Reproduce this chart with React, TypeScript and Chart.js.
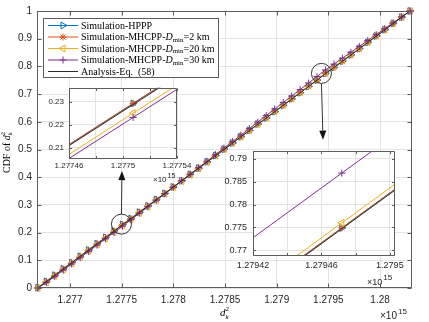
import React, { useEffect, useRef } from 'react';
import { Chart, registerables } from 'chart.js';
import { drawPoint } from 'chart.js/helpers';
Chart.register(...registerables);

const SERIF = '"Liberation Serif", "Times New Roman", serif';
const SANS = '"Liberation Sans", Arial, sans-serif';
const TEXT = '#262626';
const GRID = '#e4e4e4';
const FRAME = '#5c5c5c';

// ---------- main chart data (x in units of 1e15) ----------
const xGrid = [
  1.2766890, 1.2767709, 1.2768527, 1.2769346, 1.2770164, 1.2770983, 1.2771801, 1.2772620, 1.2773438,
  1.2774257, 1.2775075, 1.2775894, 1.2776712, 1.2777531, 1.2778349, 1.2779168, 1.2779986, 1.2780805,
  1.2781623, 1.2782442, 1.2783260, 1.2784079, 1.2784897, 1.2785716, 1.2786534, 1.2787353, 1.2788171,
  1.2788990, 1.2789808, 1.2790627, 1.2791445, 1.2792264, 1.2793082, 1.2793901, 1.2794719, 1.2795538,
  1.2796356, 1.2797175, 1.2797993, 1.2798812, 1.2799630, 1.2800449, 1.2801267, 1.2802086, 1.2802904,
];
const hpppY = [
  0.0010, 0.0238, 0.0463, 0.0695, 0.0918, 0.1149, 0.1371, 0.1603, 0.1826, 0.2058, 0.2292, 0.2509,
  0.2739, 0.2963, 0.3194, 0.3417, 0.3648, 0.3871, 0.4102, 0.4325, 0.4556, 0.4779, 0.5011, 0.5233,
  0.5464, 0.5688, 0.5918, 0.6141, 0.6372, 0.6596, 0.6826, 0.7050, 0.7280, 0.7505, 0.7749, 0.7961,
  0.8189, 0.8413, 0.8643, 0.8868, 0.9097, 0.9322, 0.9551, 0.9776, 1.0000,
];
const mh2Y = [
  0.0004, 0.0233, 0.0459, 0.0688, 0.0913, 0.1142, 0.1368, 0.1597, 0.1822, 0.2051, 0.2292, 0.2505,
  0.2732, 0.2960, 0.3187, 0.3413, 0.3641, 0.3868, 0.4096, 0.4322, 0.4550, 0.4777, 0.5005, 0.5231,
  0.5459, 0.5686, 0.5913, 0.6140, 0.6368, 0.6594, 0.6822, 0.7049, 0.7277, 0.7503, 0.7749, 0.7958,
  0.8186, 0.8412, 0.8640, 0.8867, 0.9095, 0.9321, 0.9548, 0.9775, 1.0000,
];
const mh20Y = [
  0.0000, 0.0204, 0.0432, 0.0659, 0.0886, 0.1113, 0.1341, 0.1568, 0.1795, 0.2022, 0.2250, 0.2479,
  0.2708, 0.2938, 0.3167, 0.3397, 0.3626, 0.3856, 0.4085, 0.4314, 0.4544, 0.4774, 0.5003, 0.5232,
  0.5463, 0.5692, 0.5921, 0.6150, 0.6380, 0.6610, 0.6839, 0.7068, 0.7298, 0.7528, 0.7760, 0.7983,
  0.8207, 0.8431, 0.8655, 0.8880, 0.9104, 0.9328, 0.9552, 0.9777, 1.0000,
];
const mh30Y = [
  0.0000, 0.0197, 0.0420, 0.0642, 0.0867, 0.1094, 0.1322, 0.1549, 0.1776, 0.2003, 0.2231, 0.2466,
  0.2700, 0.2936, 0.3171, 0.3405, 0.3640, 0.3876, 0.4110, 0.4345, 0.4580, 0.4815, 0.5050, 0.5285,
  0.5521, 0.5755, 0.5990, 0.6225, 0.6460, 0.6695, 0.6930, 0.7164, 0.7400, 0.7635, 0.7869, 0.8083,
  0.8296, 0.8509, 0.8722, 0.8935, 0.9148, 0.9361, 0.9573, 0.9787, 1.0000,
];
const analysisY = [
  0.0000, 0.0227, 0.0455, 0.0682, 0.0909, 0.1136, 0.1364, 0.1591, 0.1818, 0.2045, 0.2287, 0.2500,
  0.2727, 0.2955, 0.3182, 0.3409, 0.3636, 0.3864, 0.4091, 0.4318, 0.4545, 0.4773, 0.5000, 0.5227,
  0.5455, 0.5682, 0.5909, 0.6136, 0.6364, 0.6591, 0.6818, 0.7045, 0.7273, 0.7500, 0.7747, 0.7955,
  0.8182, 0.8409, 0.8636, 0.8864, 0.9091, 0.9318, 0.9545, 0.9773, 1.0000,
];
const xTicks = [1.277, 1.2775, 1.278, 1.2785, 1.279, 1.2795, 1.28];
const xTickLabels = ['1.277', '1.2775', '1.278', '1.2785', '1.279', '1.2795', '1.28'];
const yTicks = [0, 0.1, 0.2, 0.3, 0.4, 0.5, 0.6, 0.7, 0.8, 0.9, 1];
const yTickLabels = ['0', '0.1', '0.2', '0.3', '0.4', '0.5', '0.6', '0.7', '0.8', '0.9', '1'];

// ---------- inset 1 (zoom near CDF 0.22) ----------
const inset1X = [1.27744, 1.2775075, 1.27756];
const inset1Hppp = [0.2037, 0.2292, 0.2490];
const inset1Mh2 = [0.2037, 0.2292, 0.2490];
const inset1Mh20 = [0.1994, 0.2250, 0.2446];
const inset1Mh30 = [0.1977, 0.2231, 0.2429];
const inset1Analysis = [0.2033, 0.2287, 0.2485];
const inset1XTicks = [1.27746, 1.27748, 1.2775, 1.27752, 1.27754];
const inset1XLabels = ['1.27746', '', '1.2775', '', '1.27754'];
const inset1YTicks = [0.21, 0.22, 0.23];
const inset1YLabels = ['0.21', '0.22', '0.23'];

// ---------- inset 2 (zoom near CDF 0.78) ----------
const inset2X = [1.2794, 1.2794719, 1.27952];
const inset2Hppp = [0.7553, 0.7749, 0.7880];
const inset2Mh2 = [0.7553, 0.7749, 0.7880];
const inset2Mh20 = [0.7564, 0.7760, 0.7891];
const inset2Mh30 = [0.7673, 0.7869, 0.8000];
const inset2Analysis = [0.7551, 0.7747, 0.7878];
const inset2XTicks = [1.27942, 1.27944, 1.27946, 1.27948, 1.2795];
const inset2XLabels = ['1.27942', '', '1.27946', '', '1.2795'];
const inset2YTicks = [0.77, 0.775, 0.78, 0.785, 0.79];
const inset2YLabels = ['0.77', '0.775', '0.78', '0.785', '0.79'];

// ---------- styles ----------
const SERIES = [
  { color: '#0072BD', style: 'triangle', rot: 90, r: 4, order: 5 },
  { color: '#D95319', style: 'star', rot: 0, r: 3.5, order: 4 },
  { color: '#EDB120', style: 'triangle', rot: -90, r: 4, order: 3 },
  { color: '#7E2F8E', style: 'cross', rot: 0, r: 3.5, order: 2 },
  { color: '#2a2a2a', style: 'circle', rot: 0, r: 0, order: 1 },
];

type Part = { t: string; size: number; italic?: boolean; dy?: number; fam?: string; noAdv?: boolean };
const fontOf = (p: Part) => `${p.italic ? 'italic ' : ''}${p.size}px ${p.fam || SERIF}`;
function richWidth(ctx: CanvasRenderingContext2D, parts: Part[]) {
  let w = 0;
  for (const p of parts) { ctx.font = fontOf(p); if (!p.noAdv) w += ctx.measureText(p.t).width; }
  return w;
}
function drawRich(ctx: CanvasRenderingContext2D, parts: Part[], x: number, y: number) {
  let cx = x;
  for (const p of parts) {
    ctx.font = fontOf(p);
    ctx.fillText(p.t, cx, y + (p.dy || 0));
    if (!p.noAdv) cx += ctx.measureText(p.t).width;
  }
}

const LEGEND: Part[][] = [
  [{ t: 'Simulation-HPPP', size: 10 }],
  [{ t: 'Simulation-MHCPP-', size: 10 }, { t: 'D', size: 10, italic: true }, { t: 'min', size: 7, dy: 2.5 }, { t: '=2 km', size: 10 }],
  [{ t: 'Simulation-MHCPP-', size: 10 }, { t: 'D', size: 10, italic: true }, { t: 'min', size: 7, dy: 2.5 }, { t: '=20 km', size: 10 }],
  [{ t: 'Simulation-MHCPP-', size: 10 }, { t: 'D', size: 10, italic: true }, { t: 'min', size: 7, dy: 2.5 }, { t: '=30 km', size: 10 }],
  [{ t: 'Analysis-Eq.  (58)', size: 10 }],
];

function buildDatasets(xs: number[], ys: number[][], markerIdx: number | null, clip: boolean) {
  return SERIES.map((s, k) => ({
    data: xs.map((x, i) => ({ x, y: ys[k][i] })),
    borderColor: s.color,
    borderWidth: 1,
    pointStyle: s.style,
    pointRotation: s.rot,
    pointRadius: markerIdx === null ? s.r : xs.map((_, i) => (i === markerIdx ? s.r : 0)),
    pointHoverRadius: 0,
    pointBorderColor: s.color,
    pointBackgroundColor: 'rgba(0,0,0,0)',
    pointBorderWidth: 1,
    order: s.order,
    tension: 0,
    clip: clip ? undefined : false,
  }));
}

function drawFrame(chart: any, xt: number[], yt: number[], L: number) {
  const { ctx, chartArea, scales } = chart;
  const l = Math.round(chartArea.left) + 0.5, r = Math.round(chartArea.right) - 0.5;
  const t = Math.round(chartArea.top) + 0.5, b = Math.round(chartArea.bottom) - 0.5;
  ctx.save();
  ctx.strokeStyle = FRAME;
  ctx.lineWidth = 1;
  ctx.beginPath();
  for (const v of xt) {
    const px = Math.round(scales.x.getPixelForValue(v)) + 0.5;
    ctx.moveTo(px, b); ctx.lineTo(px, b - L);
    ctx.moveTo(px, t); ctx.lineTo(px, t + L);
  }
  for (const v of yt) {
    const py = Math.round(scales.y.getPixelForValue(v)) + 0.5;
    ctx.moveTo(l, py); ctx.lineTo(l + L, py);
    ctx.moveTo(r, py); ctx.lineTo(r - L, py);
  }
  ctx.rect(l, t, r - l, b - t);
  ctx.stroke();
  ctx.restore();
}

function drawExponent(ctx: CanvasRenderingContext2D, x: number, y: number, s1: number, s2: number) {
  ctx.save();
  ctx.fillStyle = TEXT;
  ctx.textAlign = 'left';
  ctx.textBaseline = 'alphabetic';
  ctx.font = `${s1}px ${SANS}`;
  ctx.fillText('\u00d710', x, y);
  const w = ctx.measureText('\u00d710').width;
  ctx.font = `${s2}px ${SANS}`;
  ctx.fillText('15', x + w + 1, y - s1 * 0.55);
  ctx.restore();
}

function baseOptions(o: any) {
  return {
    responsive: false,
    animation: false,
    devicePixelRatio: 1,
    events: [],
    layout: { padding: { left: 0, top: o.top, right: o.right, bottom: 0 } },
    plugins: { legend: { display: false }, tooltip: { enabled: false } },
    scales: {
      x: {
        type: 'linear',
        min: o.xMin, max: o.xMax,
        afterBuildTicks: (s: any) => { s.ticks = o.xTicks.map((v: number) => ({ value: v })); },
        afterFit: (s: any) => { s.height = o.xH; },
        ticks: {
          callback: (_v: any, i: number) => o.xLabels[i],
          font: { family: SANS, size: o.font }, color: TEXT, padding: o.xPad,
          autoSkip: false, maxRotation: 0, minRotation: 0,
        },
        grid: { color: GRID, drawTicks: false, lineWidth: 1 },
        border: { display: false },
      },
      y: {
        type: 'linear',
        min: o.yMin, max: o.yMax,
        afterBuildTicks: (s: any) => { s.ticks = o.yTicks.map((v: number) => ({ value: v })); },
        afterFit: (s: any) => { s.width = o.yW; },
        ticks: {
          callback: (_v: any, i: number) => o.yLabels[i],
          font: { family: SANS, size: o.font }, color: TEXT, padding: o.yPad,
          autoSkip: false,
        },
        grid: { color: GRID, drawTicks: false, lineWidth: 1 },
        border: { display: false },
      },
    },
  };
}

// annotation anchors (data coordinates of the zoomed spots)
const circleSpots = [
  { x: 1.277498, y: 0.2305, tipY: 0.422, tipX: 1.277503 },
  { x: 1.279433, y: 0.7748, tipY: 0.5355, tipX: 1.279448 },
];

const mainPlugin = {
  id: 'mainDecor',
  afterDatasetsDraw(chart: any) { drawFrame(chart, xTicks, yTicks, 4); },
  afterDraw(chart: any) {
    const { ctx, chartArea, scales } = chart;
    // circles and arrows
    ctx.save();
    ctx.strokeStyle = '#333';
    ctx.fillStyle = '#111';
    ctx.lineWidth = 1;
    for (const c of circleSpots) {
      const cx = scales.x.getPixelForValue(c.x), cy = scales.y.getPixelForValue(c.y);
      const tx = scales.x.getPixelForValue(c.tipX), ty = scales.y.getPixelForValue(c.tipY);
      const R = 10;
      ctx.beginPath(); ctx.arc(cx, cy, R, 0, Math.PI * 2); ctx.stroke();
      const dir = ty < cy ? -1 : 1;
      const sy = cy + dir * R;
      const ang = Math.atan2(ty - sy, tx - cx);
      const hl = 9, hw = 3.5;
      const bx = tx - Math.cos(ang) * hl, by = ty - Math.sin(ang) * hl;
      ctx.beginPath(); ctx.moveTo(cx, sy); ctx.lineTo(bx, by); ctx.stroke();
      ctx.beginPath();
      ctx.moveTo(tx, ty);
      ctx.lineTo(bx + Math.sin(ang) * hw, by - Math.cos(ang) * hw);
      ctx.lineTo(bx - Math.sin(ang) * hw, by + Math.cos(ang) * hw);
      ctx.closePath(); ctx.fill();
    }
    ctx.restore();

    // legend
    ctx.save();
    const lx = chartArea.left + 6, ly = chartArea.top + 7, lw = 176, lh = 60;
    ctx.fillStyle = '#fff';
    ctx.fillRect(lx, ly, lw, lh);
    ctx.strokeStyle = FRAME;
    ctx.lineWidth = 1;
    ctx.strokeRect(lx + 0.5, ly + 0.5, lw - 1, lh - 1);
    LEGEND.forEach((parts, k) => {
      const s = SERIES[k];
      const yy = ly + 7.5 + k * 11.5;
      ctx.strokeStyle = s.color;
      ctx.lineWidth = 1;
      ctx.beginPath(); ctx.moveTo(lx + 5, yy); ctx.lineTo(lx + 35, yy); ctx.stroke();
      if (s.r > 0) {
        ctx.fillStyle = 'rgba(0,0,0,0)';
        drawPoint(ctx, { pointStyle: s.style, rotation: s.rot, radius: s.r, borderWidth: 1 } as any, lx + 20, yy);
      }
      ctx.fillStyle = '#000';
      ctx.textBaseline = 'middle';
      ctx.textAlign = 'left';
      drawRich(ctx, parts, lx + 38, yy + 0.5);
    });
    ctx.restore();

    // axis titles
    ctx.save();
    ctx.fillStyle = '#000';
    ctx.textBaseline = 'alphabetic';
    ctx.textAlign = 'left';
    const xl: Part[] = [{ t: 'd', size: 11, italic: true }, { t: 'k', size: 7, italic: true, dy: 2.5, noAdv: true }, { t: '2', size: 7, dy: -5 }];
    const xw = richWidth(ctx, xl);
    drawRich(ctx, xl, (chartArea.left + chartArea.right) / 2 - xw / 2, chartArea.bottom + 28);
    const yl: Part[] = [{ t: 'CDF of ', size: 10 }, ...xl.map((p) => ({ ...p, size: p.size === 11 ? 10 : 6.5 }))];
    const yw = richWidth(ctx, yl);
    ctx.translate(9.5, (chartArea.top + chartArea.bottom) / 2 + 3);
    ctx.rotate(-Math.PI / 2);
    drawRich(ctx, yl, -yw / 2, 0);
    ctx.restore();

    drawExponent(ctx, chartArea.right - 32, chartArea.bottom + 31, 10, 8);
  },
};

function insetPlugin(xt: number[], yt: number[], exp: { dx: number; dy: number; s1: number; s2: number }) {
  return {
    id: 'insetDecor',
    beforeDraw(chart: any) {
      const { ctx, chartArea } = chart;
      ctx.save();
      ctx.fillStyle = '#fff';
      ctx.fillRect(chartArea.left, chartArea.top, chartArea.right - chartArea.left, chartArea.bottom - chartArea.top);
      ctx.restore();
    },
    afterDatasetsDraw(chart: any) { drawFrame(chart, xt, yt, 2.5); },
    afterDraw(chart: any) {
      const { ctx, chartArea } = chart;
      drawExponent(ctx, chartArea.right + exp.dx, chartArea.bottom + exp.dy, exp.s1, exp.s2);
    },
  };
}

export default function App() {
  const mainRef = useRef<HTMLCanvasElement>(null);
  const in1Ref = useRef<HTMLCanvasElement>(null);
  const in2Ref = useRef<HTMLCanvasElement>(null);

  useEffect(() => {
    const charts: Chart[] = [];
    charts.push(new Chart(mainRef.current as HTMLCanvasElement, {
      type: 'line',
      data: { datasets: buildDatasets(xGrid, [hpppY, mh2Y, mh20Y, mh30Y, analysisY], null, false) as any },
      options: baseOptions({
        top: 6, right: 17, xH: 34, yW: 37, font: 10, xPad: 6, yPad: 5,
        xMin: 1.276681, xMax: 1.280309, yMin: 0, yMax: 1,
        xTicks, xLabels: xTickLabels, yTicks, yLabels: yTickLabels,
      }) as any,
      plugins: [mainPlugin],
    }));
    charts.push(new Chart(in1Ref.current as HTMLCanvasElement, {
      type: 'line',
      data: { datasets: buildDatasets(inset1X, [inset1Hppp, inset1Mh2, inset1Mh20, inset1Mh30, inset1Analysis], 1, true) as any },
      options: baseOptions({
        top: 5, right: 28, xH: 29, yW: 39, font: 8, xPad: 2, yPad: 5,
        xMin: 1.27746, xMax: 1.27754, yMin: 0.205, yMax: 0.236,
        xTicks: inset1XTicks, xLabels: inset1XLabels, yTicks: inset1YTicks, yLabels: inset1YLabels,
      }) as any,
      plugins: [insetPlugin(inset1XTicks, inset1YTicks, { dx: -24, dy: 23, s1: 8, s2: 7 })],
    }));
    charts.push(new Chart(in2Ref.current as HTMLCanvasElement, {
      type: 'line',
      data: { datasets: buildDatasets(inset2X, [inset2Hppp, inset2Mh2, inset2Mh20, inset2Mh30, inset2Analysis], 1, true) as any },
      options: baseOptions({
        top: 5, right: 34, xH: 34, yW: 38, font: 9, xPad: 4, yPad: 6,
        xMin: 1.27942, xMax: 1.279503, yMin: 0.76876, yMax: 0.79165,
        xTicks: inset2XTicks, xLabels: inset2XLabels, yTicks: inset2YTicks, yLabels: inset2YLabels,
      }) as any,
      plugins: [insetPlugin(inset2XTicks, inset2YTicks, { dx: -28, dy: 28.5, s1: 9, s2: 8 })],
    }));
    return () => charts.forEach((c) => c.destroy());
  }, []);

  return (
    <div style={{ position: 'fixed', left: 0, top: 0, width: 429, height: 322, background: '#fff', overflow: 'hidden' }}>
      <canvas ref={mainRef} width={429} height={322} style={{ position: 'absolute', left: 0, top: 0, width: 429, height: 322 }} />
      <canvas ref={in1Ref} width={175} height={110} style={{ position: 'absolute', left: 30, top: 78, width: 175, height: 110 }} />
      <canvas ref={in2Ref} width={214} height={150} style={{ position: 'absolute', left: 215, top: 140, width: 214, height: 150 }} />
    </div>
  );
}
